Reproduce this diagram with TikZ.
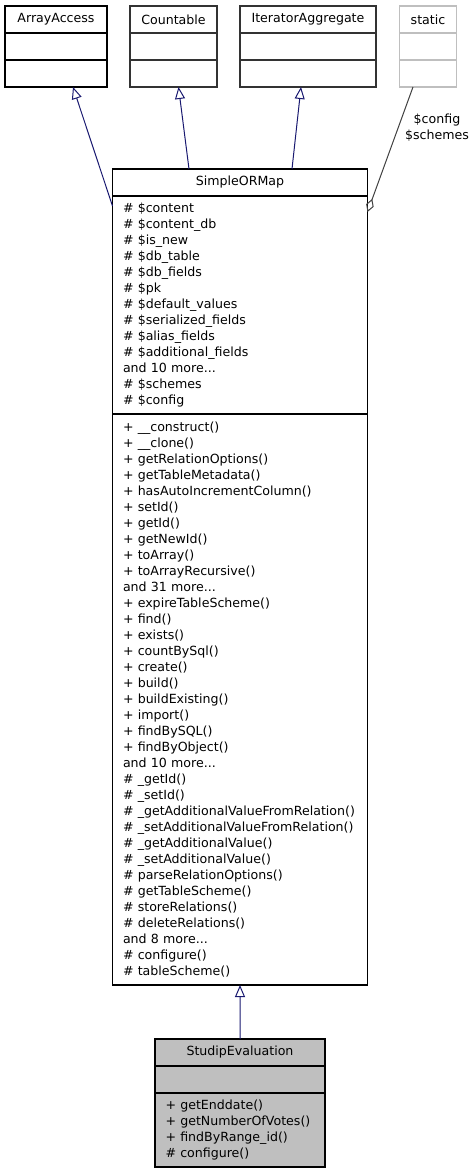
\documentclass[tikz,border=0pt]{standalone}
\usepackage{fontspec}
\setmainfont{DejaVu Sans}
\usetikzlibrary{arrows.meta,positioning}
\definecolor{edgeblue}{RGB}{25,25,112}
\definecolor{edgegray}{RGB}{64,64,64}
\definecolor{ghostgray}{RGB}{191,191,191}
\definecolor{focusfill}{RGB}{191,191,191}
\hyphenpenalty=10000
\tikzset{
  umlfont/.style={font=\fontsize{12.6bp}{16bp}\selectfont},
  classbox/.style={rectangle,draw=black,line width=1.2bp,outer sep=0pt,inner sep=0pt,umlfont},
  titlebox/.style={classbox,minimum height=27bp},
  emptybox/.style={classbox,minimum height=27bp},
  listbox/.style={classbox,align=left,inner xsep=10.5bp},
  inherit/.style={-{Triangle[open,length=12bp,width=10bp]},edgeblue,line width=1bp},
  usage/.style={-{Diamond[open,length=14bp,width=8bp]},edgegray,line width=1bp}
}

\begin{document}
\begin{tikzpicture}[x=1bp,y=1bp]
  \useasboundingbox (0,0) rectangle (476,-1173);

  %% Interfaces
  \node[titlebox,minimum width=102bp,anchor=north west] (aatitle) at (5,-6) {ArrayAccess};
  \node[emptybox,minimum width=102bp,below=0pt of aatitle] (aaattr) {};
  \node[emptybox,minimum width=102bp,below=0pt of aaattr] (aameth) {};

  \node[titlebox,minimum width=87bp,draw=black!80,anchor=north west] (cttitle) at (130,-6) {Countable};
  \node[emptybox,minimum width=87bp,draw=black!80,below=0pt of cttitle] (ctattr) {};
  \node[emptybox,minimum width=87bp,draw=black!80,below=0pt of ctattr] (ctmeth) {};

  \node[titlebox,minimum width=136bp,draw=black!80,anchor=north west] (iatitle) at (240,-6) {IteratorAggregate};
  \node[emptybox,minimum width=136bp,draw=black!80,below=0pt of iatitle] (iaattr) {};
  \node[emptybox,minimum width=136bp,draw=black!80,below=0pt of iaattr] (iameth) {};

  \node[titlebox,minimum width=57bp,draw=ghostgray,anchor=north west] (sttitle) at (399.5,-6) {static};
  \node[emptybox,minimum width=57bp,draw=ghostgray,below=0pt of sttitle] (stattr) {};
  \node[emptybox,minimum width=57bp,draw=ghostgray,below=0pt of stattr] (stmeth) {};

  %% SimpleORMap
  \node[titlebox,minimum width=255bp,anchor=north west] (smtitle) at (112.5,-169) {SimpleORMap};
  \node[listbox,minimum width=255bp,text width=234bp,minimum height=218bp,below=0pt of smtitle] (smattr) {%
    \# \$content\\
    \# \$content\_db\\
    \# \$is\_new\\
    \# \$db\_table\\
    \# \$db\_fields\\
    \# \$pk\\
    \# \$default\_values\\
    \# \$serialized\_fields\\
    \# \$alias\_fields\\
    \# \$additional\_fields\\
    and 10 more...\\
    \# \$schemes\\
    \# \$config};
  \node[listbox,minimum width=255bp,text width=234bp,minimum height=571bp,below=0pt of smattr] (smmeth) {%
    + \_\_construct()\\
    + \_\_clone()\\
    + getRelationOptions()\\
    + getTableMetadata()\\
    + hasAutoIncrementColumn()\\
    + setId()\\
    + getId()\\
    + getNewId()\\
    + toArray()\\
    + toArrayRecursive()\\
    and 31 more...\\
    + expireTableScheme()\\
    + find()\\
    + exists()\\
    + countBySql()\\
    + create()\\
    + build()\\
    + buildExisting()\\
    + import()\\
    + findBySQL()\\
    + findByObject()\\
    and 10 more...\\
    \# \_getId()\\
    \# \_setId()\\
    \# \_getAdditionalValueFromRelation()\\
    \# \_setAdditionalValueFromRelation()\\
    \# \_getAdditionalValue()\\
    \# \_setAdditionalValue()\\
    \# parseRelationOptions()\\
    \# getTableScheme()\\
    \# storeRelations()\\
    \# deleteRelations()\\
    and 8 more...\\
    \# configure()\\
    \# tableScheme()};

  %% StudipEvaluation
  \node[titlebox,minimum width=170bp,fill=focusfill,anchor=north west] (setitle) at (155,-1039) {StudipEvaluation};
  \node[emptybox,minimum width=170bp,fill=focusfill,below=0pt of setitle] (seattr) {};
  \node[listbox,minimum width=170bp,text width=149bp,minimum height=74bp,fill=focusfill,below=0pt of seattr] (semeth) {%
    + getEnddate()\\
    + getNumberOfVotes()\\
    + findByRange\_id()\\
    \# configure()};

  \node[umlfont,align=center,inner sep=0pt] (cfglabel) at (437,-128) {\$config\\\$schemes};

  %% Arrows
  \draw[inherit] ([yshift=-10bp]smattr.north west) -- ([xshift=17bp]aameth.south);
  \draw[inherit] ([xshift=-51bp]smtitle.north) -- ([xshift=5bp]ctmeth.south);
  \draw[inherit] ([xshift=52bp]smtitle.north) -- ([xshift=-7bp]iameth.south);
  \draw[usage] ([xshift=-15bp]stmeth.south) -- ([yshift=-16bp]smattr.north east);
  \draw[inherit] (setitle.north) -- (smmeth.south);
\end{tikzpicture}
\end{document}
